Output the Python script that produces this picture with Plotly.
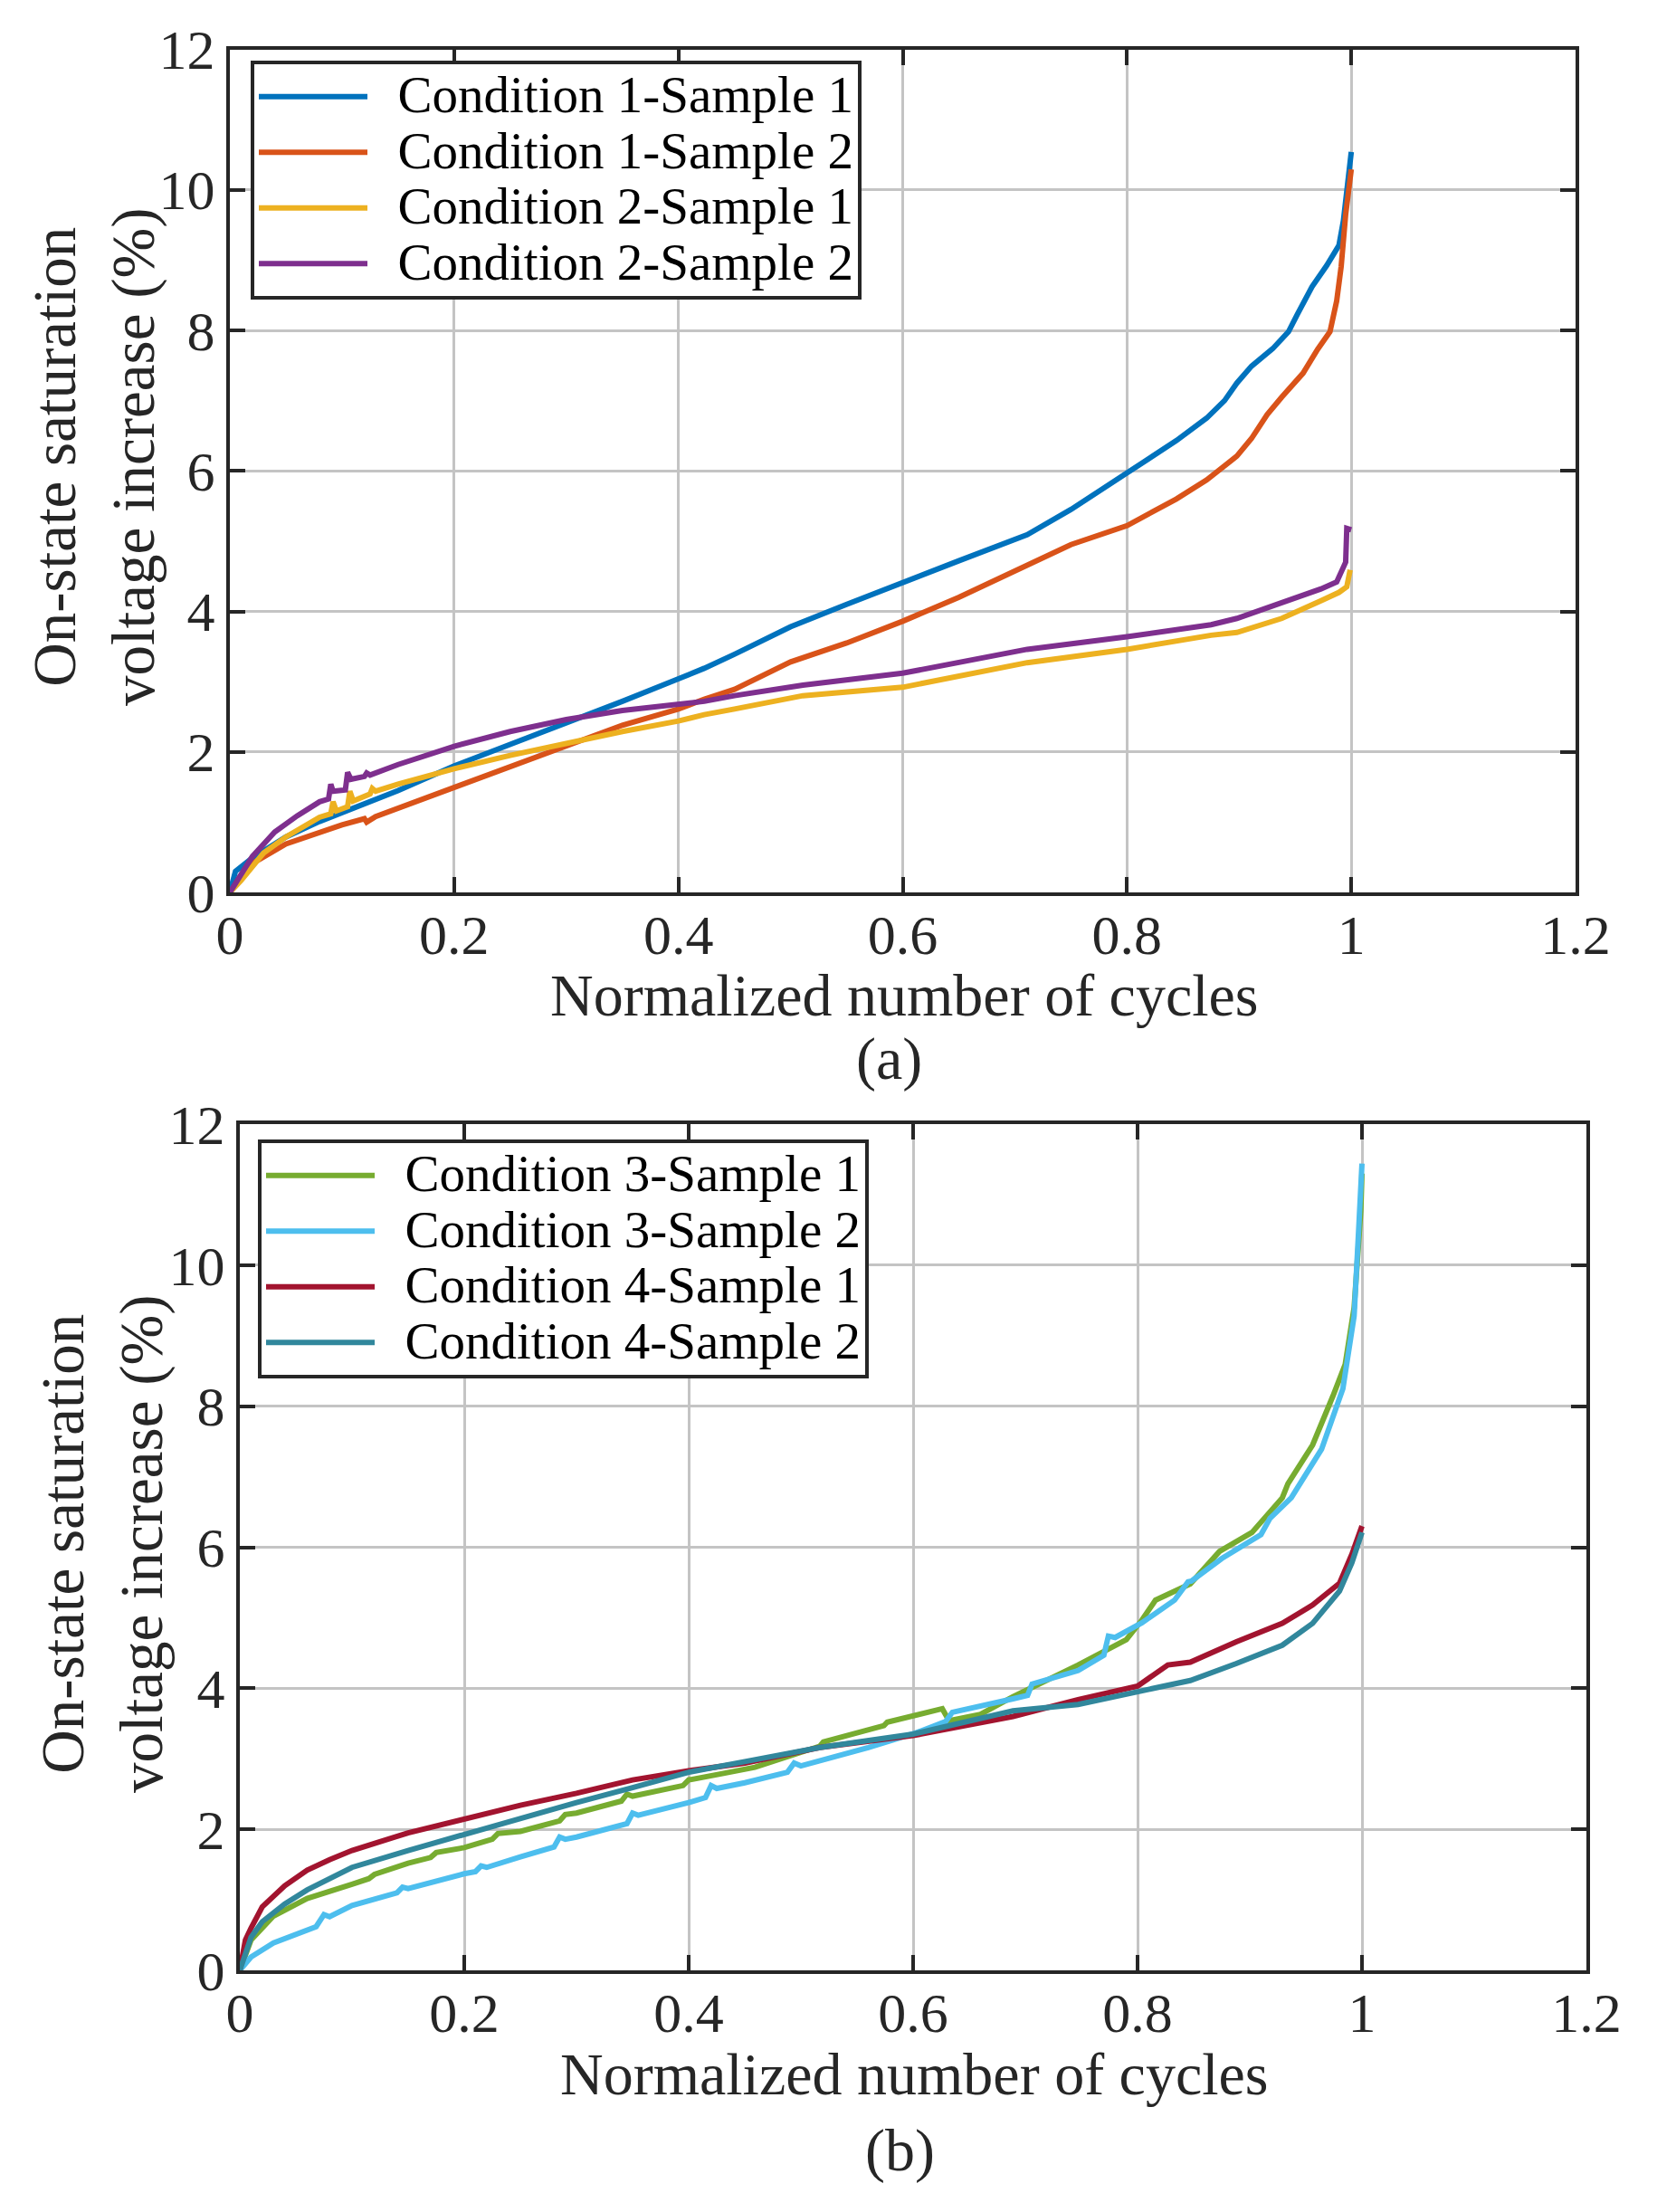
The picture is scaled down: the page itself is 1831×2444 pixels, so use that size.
import plotly.graph_objects as go

# ---------------- data: panel (a) ----------------
c1s1_x = [0, 0.005, 0.02, 0.05, 0.08, 0.10, 0.13, 0.15, 0.20, 0.25, 0.30, 0.35, 0.40, 0.423, 0.45, 0.50, 0.55,
          0.60, 0.65, 0.711, 0.75, 0.80, 0.844, 0.871, 0.887, 0.898, 0.911, 0.930, 0.944, 0.952, 0.965, 0.978,
          0.989, 0.993, 0.997, 1.0]
c1s1_y = [0, 0.30, 0.49, 0.79, 1.01, 1.14, 1.33, 1.45, 1.80, 2.10, 2.42, 2.72, 3.04, 3.19, 3.39, 3.78, 4.10,
          4.40, 4.72, 5.09, 5.45, 5.97, 6.43, 6.75, 7.00, 7.25, 7.49, 7.74, 7.98, 8.23, 8.62, 8.92,
          9.21, 9.56, 10.10, 10.54]

c1s2_x = [0, 0.02, 0.05, 0.08, 0.10, 0.12, 0.122, 0.13, 0.15, 0.20, 0.25, 0.30, 0.35, 0.40, 0.423, 0.45, 0.50,
          0.55, 0.60, 0.65, 0.711, 0.75, 0.80, 0.844, 0.871, 0.898, 0.911, 0.925, 0.938, 0.957, 0.970, 0.981,
          0.987, 0.991, 0.995, 1.0]
c1s2_y = [0, 0.41, 0.69, 0.86, 0.96, 1.05, 1.00, 1.08, 1.20, 1.50, 1.80, 2.10, 2.38, 2.61, 2.75, 2.89, 3.28,
          3.55, 3.86, 4.20, 4.67, 4.95, 5.22, 5.60, 5.87, 6.21, 6.46, 6.80, 7.05, 7.39, 7.73, 7.98,
          8.42, 8.91, 9.65, 10.29]

c2s1_x = [0, 0.01, 0.03, 0.05, 0.08, 0.09, 0.092, 0.095, 0.105, 0.107, 0.11, 0.125, 0.127, 0.13, 0.15, 0.20,
          0.25, 0.30, 0.35, 0.40, 0.423, 0.45, 0.511, 0.60, 0.711, 0.80, 0.844, 0.875, 0.898, 0.938, 0.973,
          0.989, 0.996, 0.999]
c2s1_y = [0, 0.17, 0.56, 0.79, 1.07, 1.12, 1.29, 1.16, 1.22, 1.44, 1.30, 1.40, 1.48, 1.44, 1.54, 1.76,
          1.95, 2.12, 2.29, 2.44, 2.53, 2.61, 2.80, 2.92, 3.27, 3.46, 3.58, 3.66, 3.70, 3.90, 4.15,
          4.27, 4.35, 4.59]

c2s2_x = [0, 0.02, 0.04, 0.06, 0.08, 0.088, 0.09, 0.092, 0.103, 0.105, 0.108, 0.12, 0.122, 0.125, 0.15, 0.20,
          0.25, 0.30, 0.35, 0.40, 0.423, 0.45, 0.511, 0.60, 0.711, 0.80, 0.844, 0.875, 0.898, 0.938, 0.973,
          0.987, 0.993, 0.995, 0.996, 1.0]
c2s2_y = [0, 0.51, 0.86, 1.09, 1.29, 1.33, 1.54, 1.44, 1.46, 1.71, 1.61, 1.65, 1.70, 1.67, 1.82, 2.08,
          2.29, 2.46, 2.59, 2.68, 2.72, 2.80, 2.95, 3.12, 3.46, 3.64, 3.75, 3.81, 3.90, 4.12, 4.32,
          4.42, 4.61, 4.70, 5.18, 5.16]

# ---------------- data: panel (b) ----------------
c3s1_x = [0, 0.01, 0.03, 0.055, 0.06, 0.10, 0.115, 0.12, 0.15, 0.17, 0.175, 0.20, 0.225, 0.23, 0.25, 0.285,
          0.29, 0.30, 0.34, 0.345, 0.35, 0.395, 0.40, 0.43, 0.459, 0.517, 0.52, 0.574, 0.577, 0.626, 0.632,
          0.66, 0.689, 0.747, 0.79, 0.804, 0.816, 0.847, 0.873, 0.902, 0.929, 0.934, 0.956, 0.974, 0.985,
          0.993, 0.999, 1.0]
c3s1_y = [0, 0.43, 0.77, 0.97, 1.02, 1.22, 1.30, 1.36, 1.52, 1.60, 1.67, 1.74, 1.86, 1.94, 1.97, 2.12,
          2.21, 2.23, 2.40, 2.50, 2.47, 2.62, 2.70, 2.79, 2.88, 3.18, 3.24, 3.47, 3.52, 3.71, 3.54,
          3.63, 3.88, 4.33, 4.69, 4.97, 5.25, 5.48, 5.94, 6.21, 6.70, 6.90, 7.45, 8.14, 8.59,
          9.40, 10.78, 11.30]

c3s2_x = [0, 0.01, 0.03, 0.06, 0.068, 0.075, 0.08, 0.10, 0.13, 0.14, 0.145, 0.15, 0.20, 0.21, 0.215, 0.22,
          0.25, 0.28, 0.285, 0.29, 0.30, 0.345, 0.35, 0.355, 0.40, 0.415, 0.42, 0.425, 0.45, 0.488, 0.494,
          0.50, 0.56, 0.603, 0.629, 0.635, 0.689, 0.702, 0.706, 0.747, 0.77, 0.774, 0.78, 0.804, 0.833,
          0.845, 0.848, 0.875, 0.910, 0.918, 0.937, 0.964, 0.983, 0.993, 0.997, 1.0]
c3s2_y = [0, 0.19, 0.39, 0.58, 0.62, 0.79, 0.76, 0.92, 1.05, 1.10, 1.18, 1.16, 1.37, 1.40, 1.48, 1.46,
          1.61, 1.75, 1.89, 1.86, 1.89, 2.08, 2.23, 2.20, 2.38, 2.45, 2.62, 2.58, 2.66, 2.81, 2.94,
          2.90, 3.16, 3.37, 3.53, 3.66, 3.85, 3.90, 4.06, 4.25, 4.47, 4.74, 4.72, 4.93, 5.25,
          5.51, 5.52, 5.84, 6.18, 6.41, 6.70, 7.39, 8.25, 9.28, 10.49, 11.44]

c4s1_x = [0, 0.005, 0.01, 0.02, 0.04, 0.06, 0.08, 0.10, 0.15, 0.20, 0.25, 0.30, 0.35, 0.40, 0.43, 0.45,
          0.517, 0.60, 0.689, 0.747, 0.80, 0.827, 0.847, 0.881, 0.888, 0.929, 0.956, 0.980, 0.991, 1.0]
c4s1_y = [0, 0.43, 0.60, 0.90, 1.20, 1.42, 1.57, 1.70, 1.95, 2.15, 2.34, 2.51, 2.70, 2.83, 2.89, 2.94,
          3.16, 3.33, 3.60, 3.84, 4.03, 4.33, 4.37, 4.61, 4.66, 4.92, 5.18, 5.49, 5.90, 6.30]

c4s2_x = [0, 0.01, 0.02, 0.04, 0.06, 0.08, 0.10, 0.15, 0.20, 0.25, 0.30, 0.35, 0.40, 0.45, 0.517, 0.60,
          0.689, 0.747, 0.80, 0.847, 0.888, 0.929, 0.956, 0.980, 0.991, 1.0]
c4s2_y = [0, 0.47, 0.69, 0.94, 1.14, 1.31, 1.46, 1.70, 1.93, 2.17, 2.38, 2.59, 2.81, 2.96, 3.16, 3.35,
          3.68, 3.77, 3.94, 4.11, 4.35, 4.61, 4.92, 5.38, 5.78, 6.21]

names_a = ["Condition 1-Sample 1", "Condition 1-Sample 2", "Condition 2-Sample 1", "Condition 2-Sample 2"]
names_b = ["Condition 3-Sample 1", "Condition 3-Sample 2", "Condition 4-Sample 1", "Condition 4-Sample 2"]
colors_a = ["#0072BD", "#D95319", "#EDB120", "#7E2F8E"]
colors_b = ["#77AC30", "#4DBEEE", "#A2142F", "#31879C"]

x_ticks = [0, 0.2, 0.4, 0.6, 0.8, 1.0, 1.2]
y_ticks = [0, 2, 4, 6, 8, 10, 12]

FONT = "Times New Roman, Liberation Serif, serif"
W, H = 1831, 2444


def legend_label(n):
    # large glyphs, compact row pitch (row pitch follows the legend font size)
    return '<span style="font-size:57px">\u00a0\u00a0' + n + '</span>'


fig = go.Figure()
series_a = [(c1s1_x, c1s1_y), (c1s2_x, c1s2_y), (c2s1_x, c2s1_y), (c2s2_x, c2s2_y)]
series_b = [(c3s1_x, c3s1_y), (c3s2_x, c3s2_y), (c4s1_x, c4s1_y), (c4s2_x, c4s2_y)]
for (xs, ys), n, c in zip(series_a, names_a, colors_a):
    fig.add_trace(go.Scatter(x=xs, y=ys, name=legend_label(n), mode="lines", line=dict(color=c, width=6),
                             xaxis="x", yaxis="y", legend="legend"))
for (xs, ys), n, c in zip(series_b, names_b, colors_b):
    fig.add_trace(go.Scatter(x=xs, y=ys, name=legend_label(n), mode="lines", line=dict(color=c, width=6),
                             xaxis="x2", yaxis="y2", legend="legend2"))

def px_x(p):
    return p / W

def px_y(p):
    return 1 - p / H

axis_common = dict(showline=True, linecolor="#262626", linewidth=4, mirror="ticks",
                   ticks="inside", ticklen=17, tickwidth=4, tickcolor="#262626",
                   showgrid=True, gridcolor="#C4C4C4", gridwidth=3, zeroline=False,
                   automargin=False,
                   tickfont=dict(family=FONT, size=62, color="#262626"))

fig.update_layout(
    width=W, height=H, margin=dict(l=0, r=0, t=0, b=0, autoexpand=False),
    paper_bgcolor="white", plot_bgcolor="white",
    xaxis=dict(domain=[px_x(254), px_x(1741)], range=[0, 1.2], tickvals=x_ticks, anchor="y", **axis_common),
    yaxis=dict(domain=[px_y(986), px_y(54.5)], range=[0, 12], tickvals=y_ticks, anchor="x", **axis_common),
    xaxis2=dict(domain=[px_x(265), px_x(1753)], range=[0, 1.2], tickvals=x_ticks, anchor="y2", **axis_common),
    yaxis2=dict(domain=[px_y(2177), px_y(1242)], range=[0, 12], tickvals=y_ticks, anchor="x2", **axis_common),
    legend=dict(x=px_x(277), y=px_y(67), xanchor="left", yanchor="top", bgcolor="white",
                bordercolor="#262626", borderwidth=4, itemwidth=120,
                font=dict(family=FONT, size=45, color="black"), tracegroupgap=0),
    legend2=dict(x=px_x(285), y=px_y(1259), xanchor="left", yanchor="top", bgcolor="white",
                 bordercolor="#262626", borderwidth=4, itemwidth=120,
                 font=dict(family=FONT, size=45, color="black"), tracegroupgap=0),
    showlegend=True,
)

try:
    fig.update_xaxes(ticklabelstandoff=-10)
except Exception:
    pass

ann = []
def add_text(text, x, y, size, angle=0):
    ann.append(dict(text=text, x=px_x(x), y=px_y(y), xref="paper", yref="paper", showarrow=False,
                    xanchor="center", yanchor="middle", textangle=angle,
                    font=dict(family=FONT, size=size, color="#262626")))

add_text("On-state saturation<br>voltage increase (%)", 104, 505, 67, -90)
add_text("Normalized number of cycles", 999, 1099, 66)
add_text("(a)", 982, 1170, 66)
add_text("On-state saturation<br>voltage increase (%)", 113, 1706, 67, -90)
add_text("Normalized number of cycles", 1010, 2291, 66)
add_text("(b)", 994, 2376, 66)
fig.update_layout(annotations=ann)

fig.write_html("out.html")
